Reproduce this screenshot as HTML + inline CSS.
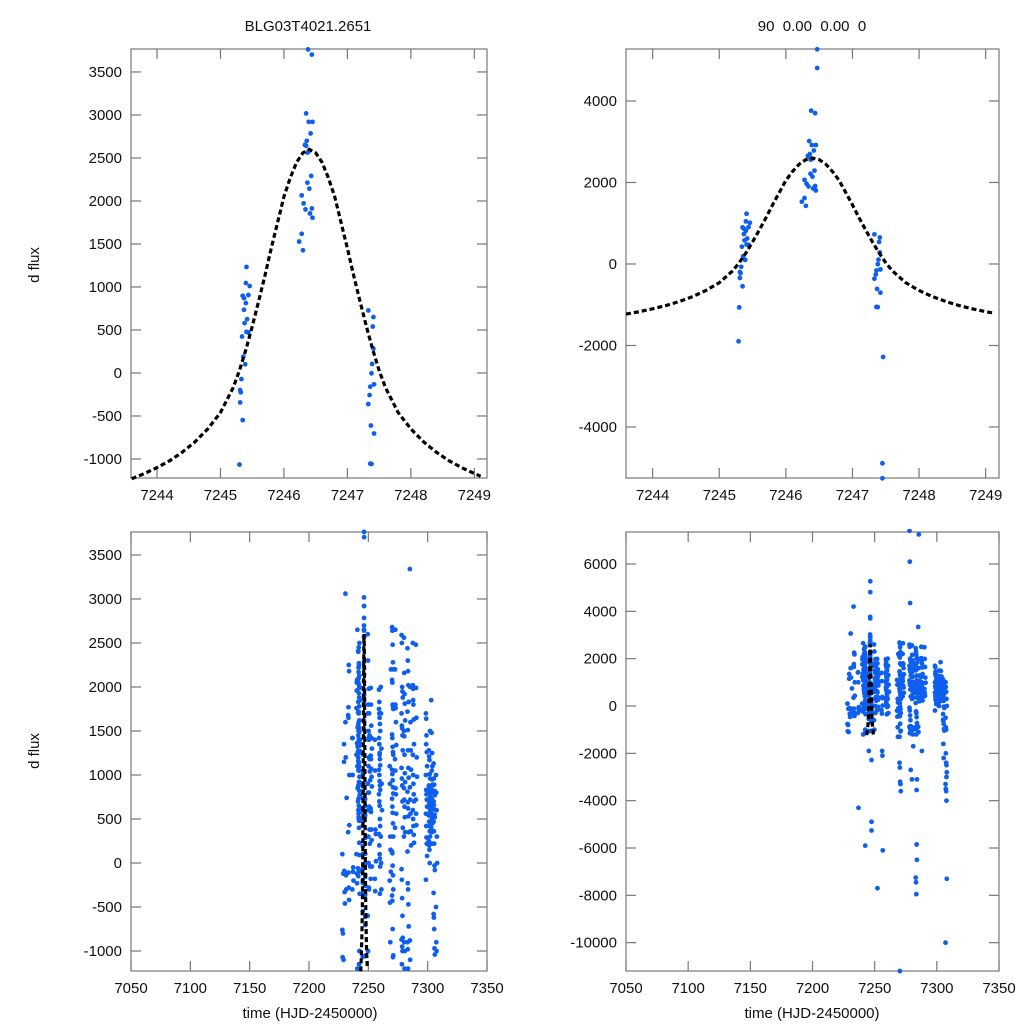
<!DOCTYPE html>
<html><head><meta charset="utf-8">
<style>
html,body{margin:0;padding:0;background:#fff;}
svg{display:block;font-family:"Liberation Sans",sans-serif;}
</style></head>
<body>
<svg id="fig" width="1024" height="1024" viewBox="0 0 1024 1024" xmlns="http://www.w3.org/2000/svg">
<rect width="1024" height="1024" fill="#fff"/>
<text x="308" y="31" font-size="15" text-anchor="middle" fill="#111">BLG03T4021.2651</text>
<text x="812" y="31" font-size="15" text-anchor="middle" fill="#111" xml:space="preserve">90  0.00  0.00  0</text>
<text x="0" y="0" font-size="15" text-anchor="middle" fill="#111" transform="translate(39,265) rotate(-90)">d flux</text>
<text x="0" y="0" font-size="15" text-anchor="middle" fill="#111" transform="translate(39,751) rotate(-90)">d flux</text>
<text x="310" y="1018" font-size="15" text-anchor="middle" fill="#111">time (HJD-2450000)</text>
<text x="812" y="1018" font-size="15" text-anchor="middle" fill="#111">time (HJD-2450000)</text>
</svg>
<script>
// Event clusters (individual observations)
const clusterT = [7245.41,7245.40,7245.46,7245.35,7245.37,7245.44,7245.40,7245.37,7245.42,7245.38,7245.41,7245.44,7245.34,7245.36,7245.39,7245.33,7245.31,7245.32,7245.31,7245.35,7245.30,7245.29,
 7246.44,7246.35,7246.39,7246.45,7246.42,7246.36,7246.33,7246.35,7246.39,7246.37,7246.43,7246.37,7246.40,7246.28,7246.31,7246.34,7246.41,7246.44,7246.45,7246.28,7246.24,7246.30,7246.47,7246.47,7246.38,
 7247.33,7247.41,7247.40,7247.41,7247.39,7247.38,7247.42,7247.36,7247.35,7247.33,7247.37,7247.42,7247.36,7247.38,7247.46,7247.45,7247.45];
const clusterF = [1233,1046,1011,898,871,906,813,735,626,580,478,470,424,190,101,-70,-198,-225,-342,-548,-1065,-1897,
 3702,3018,2920,2920,2785,2699,2652,2641,2575,2563,2291,2213,2143,2065,1972,1902,1855,1913,1805,1618,1528,1427,5269,4810,3762,
 727,650,540,284,105,-4,-132,-159,-257,-362,-611,-704,-1054,-1058,-2282,-4892,-5260];
// Other nights
const nightT = [7228.6,7230.0,7231.2,7233.5,7237.0,7240.5,7241.8,7242.0,7242.9,7242.4,7250.0,7251.0,7252.5,7256.0,7259.5,7261.0,7268.5,7270.5,7273.0,7278.5,7280.5,7283.5,7285.5,7288.0,7290.5,7299.0,7301.5,7303.5,7305.5,7307.5];
const nightF = [
 [100,-1070,-800,-120,-1100,-760],
 [1150,-90,-330,-460,-110,1350],
 [3060,-130,-140,-300,740,1600,1200],
 [1680,1770,2250,2180,430,350,-110,-280,-420,1000,4200,1650],
 [1420,1000,-100,-50,-200,-300,1420,-4300],
 [1760,2050,2080,2650,1540,1230,1960,1360,1100,850,100,-120,-230,-1200,1320],
 [2060,2410,2170,1930,1780,1710,1580,1500,1410,1330,1270,1160,1050,920,820,700,600,560,500,-100,-60,-150,2100,2270],
 [2400,2220,2030,1880,1620,1450,1380,1250,1100,980,880,730,650,480,2000,1830,1720,1540,-80,2500,1200,1060],
 [-5900],
 [2450,2250,2130,1990,1850,1700,1610,1490,1360,1270,1140,1050,920,770,620,520,400,230,90,1400,1530,-1150,-1000,-350],
 [2600,2300,1800,1500,1200,900,600,300,0,-300,-600,-1000,800,1100,1400,1700],
 [1980,1430,1180,1040,940,800,640,380,220,-40,-280,1700,1450,1210],
 [1990,1800,1560,1420,1300,1220,1180,1070,980,870,620,580,380,260,-40,-180,-7700],
 [1400,1050,380,330,20,-180,-320,-1900,-2100,-6100],
 [1750,1700,1650,1580,1500,1420,1350,1250,1180,1110,1060,1000,930,880,830,780,700,650,500,420,330,200,100,50,-40,1970,1830,1230,-350],
 [2000,1700,1300,900,600,300,0,-300],
 [1100,900,300,150,-100,-200,-450,-900,-1300,2200],
 [2680,2640,2480,2280,2200,2080,2050,1800,1780,1750,1460,1420,1320,1260,1230,1060,1010,940,860,790,730,640,570,450,300,130,110,-30,-140,-300,-370,-430,-750,-1070,-1050,-2400,-2600,-3200,-3300,-3600,-1300,-11200],
 [2200,1800,1760,1600,1340,1180,1050,850,780,560,400,2650],
 [2590,2500,2000,1950,1880,1700,1560,1530,1450,1280,1080,960,880,700,400,-70,-190,-400,-600,-850,-870,-1150,-950,-1000,-2700,7400,6100,4350],
 [2560,2160,1920,1810,1620,1500,1440,1230,1020,920,850,720,640,520,350,300,-900,-1200,-1000,-1700,-3100],
 [2440,2300,2180,2020,1830,1720,1510,1280,1080,970,810,690,620,530,350,130,-230,-300,-470,-720,-900,-980,-1200,-5850,-6500,-7250,-7450,-7950,-3550,-3100],
 [3340,2000,1600,1280,1060,860,720,560,360,200,-880,-1100,7250],
 [2020,1980,1800,1630,1350,1230,1000,900,780,700,600,500,420,320,230,2500,1850,-1900],
 [2480,1990,1650,1200,980,720,560,430],
 [1700,1640,1450,1260,1100,1000,830,780,720,640,560,420,290,220,80,-190,1350],
 [1280,1210,1170,1010,960,880,850,800,780,760,720,690,650,620,580,540,470,420,360,300,250,200,150,0,1500],
 [1850,1480,1050,950,890,850,800,730,700,650,600,560,520,500,450,400,350,220,1250,1100],
 [1130,960,890,820,770,700,660,610,550,520,470,360,220,-30,-80,-580,-620,-750,-970,-1040,-340,-1600,-2200],
 [1000,800,600,300,0,-500,-900,-1000,-2500,-2800,-3300,-3500,-3600,-4000,-7300,-10000,-2000,-2400,-3000]
];
// Model curve samples
const modelT = [7243.6,7243.8,7244.0,7244.2,7244.4,7244.6,7244.8,7245.0,7245.2,7245.3,7245.4,7245.5,7245.6,7245.7,7245.8,7245.9,7246.0,7246.1,7246.2,7246.3,7246.4,7246.5,7246.6,7246.7,7246.8,7246.9,7247.0,7247.1,7247.2,7247.3,7247.4,7247.5,7247.6,7247.8,7248.0,7248.2,7248.4,7248.6,7248.8,7249.0,7249.1];
const modelF = [-1230,-1170,-1100,-1020,-920,-800,-650,-460,-170,30,270,540,830,1130,1450,1750,2050,2270,2450,2560,2600,2560,2450,2270,2050,1750,1450,1130,830,540,270,30,-170,-460,-650,-800,-920,-1020,-1100,-1170,-1200];
const ticksTopX = [7244,7245,7246,7247,7248,7249];
const ticksBotX = [7050,7100,7150,7200,7250,7300,7350];
const ticksLeftTopY = [-1000,-500,0,500,1000,1500,2000,2500,3000,3500];
const ticksRightTopY = [-4000,-2000,0,2000,4000];
const ticksLeftBotY = [-1000,-500,0,500,1000,1500,2000,2500,3000,3500];
const ticksRightBotY = [-10000,-8000,-6000,-4000,-2000,0,2000,4000,6000];

const NS = 'http://www.w3.org/2000/svg';
const svg = document.getElementById('fig');
const allT = [], allF = [];
clusterT.forEach((t,i)=>{allT.push(t); allF.push(clusterF[i]);});
nightT.forEach((t,i)=>{ nightF[i].forEach((f,j)=>{ allT.push(t + ((j%5)-2)*0.25); allF.push(f); }); });

function mk(tag, attrs){ const e=document.createElementNS(NS,tag); for(const k in attrs) e.setAttribute(k,attrs[k]); return e; }

function panel(name, box, xd, yd, xt, yt){
  const g = mk('g',{});
  
  
  svg.appendChild(g);
  const sx = v => box.x0 + (v - xd[0])/(xd[1]-xd[0])*(box.x1-box.x0);
  const sy = v => box.y1 - (v - yd[0])/(yd[1]-yd[0])*(box.y1-box.y0);
  const cid = name + '-clip';
  const cp = mk('clipPath',{id:cid});
  cp.appendChild(mk('rect',{x:box.x0,y:box.y0-3,width:box.x1-box.x0,height:box.y1-box.y0+6}));
  g.appendChild(cp);
  const frame = mk('rect',{x:box.x0,y:box.y0,width:box.x1-box.x0,height:box.y1-box.y0,fill:'none',stroke:'#777','stroke-width':1.2});
  
  
  g.appendChild(frame);
  xt.forEach(v=>{
    const x = sx(v);
    if (x>=box.x0-0.5 && x<=box.x1+0.5) {
      g.appendChild(mk('line',{x1:x,x2:x,y1:box.y1,y2:box.y1-10,stroke:'#777','stroke-width':1.2}));
      g.appendChild(mk('line',{x1:x,x2:x,y1:box.y0,y2:box.y0+10,stroke:'#777','stroke-width':1.2}));
    }
    const tx = mk('text',{x:x,y:box.y1+22,'font-size':15,'text-anchor':'middle',fill:'#111'});
    
    
    tx.textContent = v; g.appendChild(tx);
  });
  yt.forEach(v=>{
    const y = sy(v);
    g.appendChild(mk('line',{x1:box.x0,x2:box.x0+10,y1:y,y2:y,stroke:'#777','stroke-width':1.2}));
    g.appendChild(mk('line',{x1:box.x1,x2:box.x1-10,y1:y,y2:y,stroke:'#777','stroke-width':1.2}));
    const tx = mk('text',{x:box.x0-9,y:y+5,'font-size':15,'text-anchor':'end',fill:'#111'});
    
    
    tx.textContent = v; g.appendChild(tx);
  });
  const pts = mk('g',{'clip-path':'url(#'+cid+')',fill:'#0f5fef'});
  
  
  g.appendChild(pts);
  allT.forEach((t,i)=>{
    const x=sx(t), y=sy(allF[i]);
    if (x<box.x0-3||x>box.x1+3||y<box.y0-3||y>box.y1+3) return;
    const c = mk('circle',{cx:x.toFixed(2),cy:y.toFixed(2),r:2.4});
    
    
    pts.appendChild(c);
  });
  const d = modelT.map((t,i)=>(i?'L':'M')+sx(t).toFixed(2)+','+sy(modelF[i]).toFixed(2)).join(' ');
  const path = mk('path',{d:d,fill:'none',stroke:'#000','stroke-width':3.2,'stroke-dasharray':'5 3','clip-path':'url(#'+cid+')'});
  
  
  g.appendChild(path);
}
panel('panel-top-left',{x0:131,x1:487,y0:49,y1:478},[7243.59,7249.2],[-1221,3767],ticksTopX,ticksLeftTopY);
panel('panel-top-right',{x0:626,x1:999,y0:49,y1:478},[7243.6,7249.2],[-5252,5276],ticksTopX,ticksRightTopY);
panel('panel-bottom-left',{x0:131,x1:487,y0:532,y1:971},[7050,7350],[-1227,3761],ticksBotX,ticksLeftBotY);
panel('panel-bottom-right',{x0:626,x1:999,y0:532,y1:971},[7050,7350],[-11197,7352],ticksBotX,ticksRightBotY);
</script>
</body></html>
